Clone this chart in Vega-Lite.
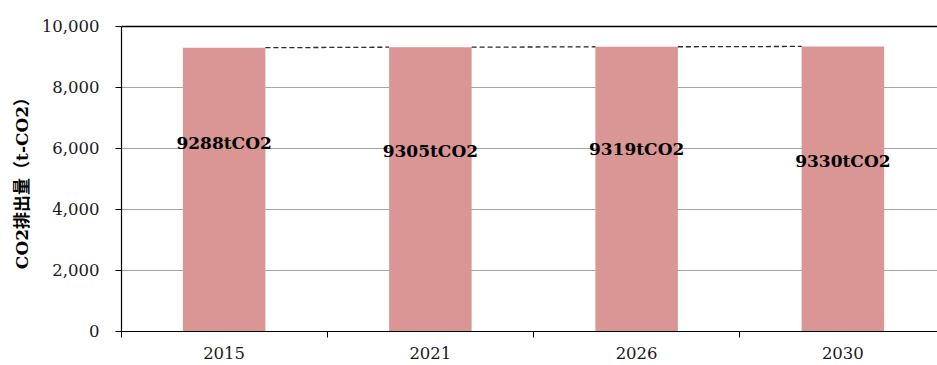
{
  "$schema": "https://vega.github.io/schema/vega-lite/v6.json",
  "width": 816,
  "height": 305,
  "autosize": {"type": "none"},
  "padding": {"left": 121, "top": 26, "right": 0, "bottom": 34},
  "background": "white",
  "config": {
    "view": {"stroke": null},
    "font": "DejaVu Serif",
    "axis": {
      "labelFont": "DejaVu Serif",
      "labelFontSize": 16.5,
      "labelColor": "#1a1a1a",
      "domainColor": "#000000",
      "domainWidth": 1.2,
      "tickColor": "#000000",
      "tickSize": 6
    }
  },
  "datasets": {
    "bars": [
      {"year": "2015", "value": 9288, "labelAt": 6130},
      {"year": "2021", "value": 9305, "labelAt": 5870},
      {"year": "2026", "value": 9319, "labelAt": 5930},
      {"year": "2030", "value": 9330, "labelAt": 5540}
    ],
    "segments": [
      {"from": "2015", "to": "2021", "v1": 9288, "v2": 9305},
      {"from": "2021", "to": "2026", "v1": 9305, "v2": 9319},
      {"from": "2026", "to": "2030", "v1": 9319, "v2": 9330}
    ]
  },
  "layer": [
    {
      "data": {"name": "bars"},
      "mark": {"type": "bar", "width": {"band": 0.4}, "color": "#D99694"},
      "encoding": {
        "x": {
          "field": "year",
          "type": "nominal",
          "scale": {"domain": ["2015", "2021", "2026", "2030"], "paddingInner": 0, "paddingOuter": 0, "range": [0, 825]},
          "axis": {"title": null, "labelAngle": 0, "bandPosition": 0, "labelPadding": 8, "grid": false}
        },
        "y": {
          "field": "value",
          "type": "quantitative",
          "scale": {"domain": [0, 10000], "nice": false},
          "axis": {
            "title": "CO2排出量（t-CO2）",
            "titleFont": "DejaVu Serif, Noto Sans CJK JP",
            "titleFontSize": 17,
            "titleFontWeight": "bold",
            "titleColor": "#000000",
            "titleX": -99,
            "titleBaseline": "middle",
            "values": [0, 2000, 4000, 6000, 8000, 10000],
            "format": ",d",
            "labelPadding": 16,
            "grid": true,
            "gridColor": {"condition": {"test": "datum.value == 10000", "value": "#000000"}, "value": "#a6a6a6"},
            "gridWidth": {"condition": {"test": "datum.value == 10000", "value": 1.5}, "value": 1}
          }
        }
      }
    },
    {
      "data": {"name": "segments"},
      "mark": {"type": "rule", "strokeDash": [5, 3], "color": "#2a2a2a", "strokeWidth": 1.3},
      "encoding": {
        "x": {"field": "from", "type": "nominal", "bandPosition": 0.7},
        "x2": {"field": "to", "bandPosition": 0.3},
        "y": {"field": "v1", "type": "quantitative"},
        "y2": {"field": "v2"}
      }
    },
    {
      "data": {"name": "bars"},
      "transform": [{"calculate": "datum.value + 'tCO2'", "as": "label"}],
      "mark": {"type": "text", "font": "DejaVu Serif", "fontSize": 17, "fontWeight": "bold", "color": "#000000", "baseline": "middle"},
      "encoding": {
        "x": {"field": "year", "type": "nominal"},
        "y": {"field": "labelAt", "type": "quantitative"},
        "text": {"field": "label"}
      }
    }
  ]
}
